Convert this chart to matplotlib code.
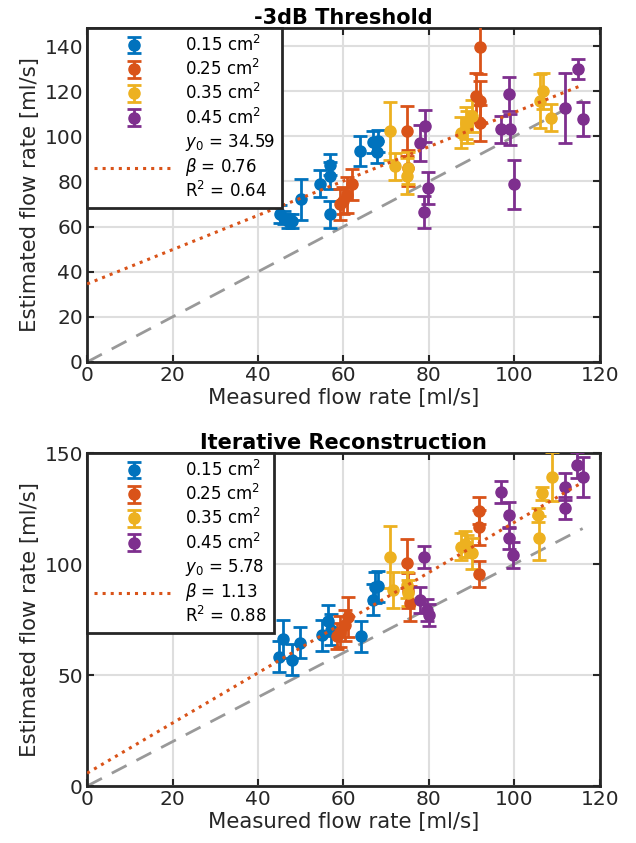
import numpy as np
import matplotlib
matplotlib.use("Agg")
import matplotlib.pyplot as plt

COLORS = ["#0072BD", "#D95319", "#EDB120", "#7E2F8E"]
AREAS = ["0.15", "0.25", "0.35", "0.45"]

# -3dB threshold panel
th_x = [
    [45.2, 46.0, 47.0, 48.0, 50.0, 54.5, 56.8, 56.8, 56.8, 63.9, 67.0, 68.0, 67.8],
    [59.2, 60.0, 60.8, 61.9, 74.8, 75.0, 91.9, 91.1, 91.9, 91.9],
    [70.9, 72.0, 75.2, 74.8, 87.6, 88.8, 90.0, 89.0, 106.0, 106.7, 108.7],
    [79.0, 77.9, 79.8, 78.8, 98.8, 97.0, 98.9, 99.9, 111.8, 114.9, 116.0],
]
th_y = [
    [65.5, 64.0, 62.5, 62.5, 72.0, 79.0, 87.5, 82.5, 65.5, 93.5, 97.5, 98.0, 93.0],
    [69.8, 71.5, 74.0, 78.7, 102.4, 86.0, 139.5, 118.0, 115.5, 106.0],
    [102.4, 86.8, 86.0, 82.4, 101.6, 106.0, 109.0, 104.0, 115.7, 120.1, 108.3],
    [104.6, 97.2, 77.2, 66.4, 118.7, 103.1, 103.1, 78.7, 112.7, 129.8, 107.8],
]
th_err = [
    [4, 3, 3, 3, 9, 6, 4.5, 6, 6, 6.5, 5, 5, 5],
    [7, 6, 8, 7, 11, 8, 12, 10, 9, 8],
    [13, 6, 7, 8, 7, 7, 7, 7, 12, 8, 6],
    [7, 8, 7, 7, 7.5, 6, 7, 11, 15.5, 4.5, 7.5],
]
th_fit = (34.59, 0.76, 0.64)

# iterative reconstruction panel
ir_x = [
    [44.8, 45.9, 47.9, 49.8, 54.9, 56.4, 57.0, 64.0, 67.0, 67.4, 68.0],
    [58.5, 59.2, 60.4, 61.1, 74.8, 75.0, 75.6, 91.8, 91.8, 91.8],
    [70.9, 71.6, 74.8, 75.2, 87.6, 88.5, 89.0, 90.0, 108.9, 106.4, 105.6, 105.8],
    [78.8, 77.9, 79.5, 80.0, 97.0, 98.8, 98.8, 99.7, 111.8, 111.8, 114.7, 116.0],
]
ir_y = [
    [58.3, 66.1, 56.8, 64.6, 68.0, 74.5, 70.5, 67.5, 84.0, 89.5, 90.0],
    [67.5, 69.5, 72.5, 76.3, 100.3, 88.0, 82.3, 124.0, 116.5, 95.5],
    [103.3, 88.3, 90.5, 87.0, 107.8, 109.0, 108.0, 104.8, 139.3, 131.8, 122.1, 111.6],
    [103.3, 83.8, 79.3, 77.0, 132.6, 122.1, 111.6, 104.0, 134.8, 125.1, 144.6, 139.3],
]
ir_err = [
    [7, 8.5, 7, 7, 7, 7, 7, 7, 7, 7, 7],
    [6, 7, 7, 9, 11, 8, 8, 6, 8, 6],
    [14, 8, 6, 6, 6, 6, 5, 7, 11, 3, 3, 10],
    [5, 6, 5, 5, 5, 6, 5, 6, 6, 5, 6, 9],
]
ir_fit = (5.78, 1.13, 0.88)


def panel(ax, xs, ys, errs, fit, title, ymax, yticks):
    handles = []
    for x, y, e, c, a in zip(xs, ys, errs, COLORS, AREAS):
        h = ax.errorbar(x, y, yerr=e, fmt="o", color=c, ms=8, elinewidth=2,
                        capsize=5, capthick=2, label=a + " cm$^2$", zorder=3)
        handles.append(h)
    xmax = max(max(x) for x in xs)
    xl = np.array([0, xmax])
    ax.plot(xl, xl, "--", color="#999999", lw=2, dashes=(6, 4), zorder=2)
    y0, beta, r2 = fit
    fl, = ax.plot(xl, y0 + beta * xl, ":", color="#D95319", lw=2.2, zorder=4,
                  label="$y_0$ = %.2f\n$\\beta$ = %.2f\nR$^2$ = %.2f" % (y0, beta, r2))
    handles.append(fl)
    ax.set_xlim(0, 120)
    ax.set_ylim(0, ymax)
    ax.set_xticks(range(0, 121, 20))
    ax.set_yticks(yticks)
    ax.grid(True, color="#dedede", lw=1.5)
    ax.set_axisbelow(True)
    ax.tick_params(direction="in", top=True, right=True, length=5, width=1.5,
                   labelsize=14.5, colors="#262626", pad=3)
    for s in ax.spines.values():
        s.set_color("#262626")
        s.set_linewidth(2)
    ax.set_title(title, fontsize=15, fontweight="bold", pad=3)
    ax.set_xlabel("Measured flow rate [ml/s]", fontsize=15.3, color="#262626", labelpad=2)
    ax.set_ylabel("Estimated flow rate [ml/s]", fontsize=15.3, color="#262626", labelpad=3)
    leg = ax.legend(handles=handles, loc="upper left", borderaxespad=0, fontsize=12,
                    handlelength=4.8, handletextpad=0.7, labelspacing=0.25,
                    fancybox=False, framealpha=1, edgecolor="#262626")
    leg.get_frame().set_linewidth(2)


fig = plt.figure(figsize=(6.36, 8.43), dpi=100)
ax1 = fig.add_axes([0.137, 0.5706, 0.806, 0.3962])
ax2 = fig.add_axes([0.137, 0.0676, 0.806, 0.3950])
panel(ax1, th_x, th_y, th_err, th_fit, "-3dB Threshold", 148, range(0, 141, 20))
panel(ax2, ir_x, ir_y, ir_err, ir_fit, "Iterative Reconstruction", 150, [0, 50, 100, 150])

fig.savefig("out.png", dpi=100)
